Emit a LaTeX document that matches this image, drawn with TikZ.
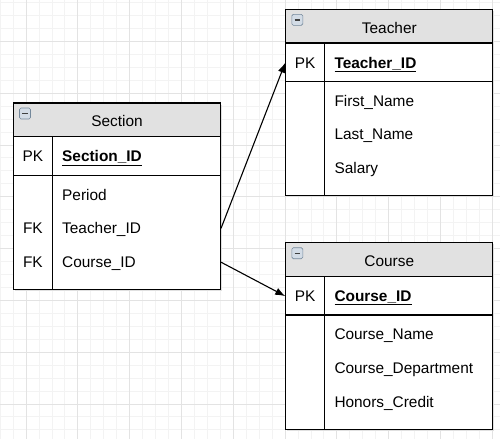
\documentclass[tikz,border=0pt]{standalone}
\usepackage{fontspec}
\setmainfont{Liberation Sans}
\usetikzlibrary{arrows.meta}

\definecolor{gridminor}{HTML}{F3F3F3}
\definecolor{gridmajor}{HTML}{E3E3E3}
\definecolor{headgray}{HTML}{E1E1E1}
\definecolor{iconfill}{HTML}{D3DCE6}
\definecolor{iconline}{HTML}{74889B}

\tikzset{
  tbl/.style={draw=black, line width=1.1pt, minimum width=207pt, minimum height=186.5pt, inner sep=0pt},
  sep/.style={line width=1.1pt},
  shade/.style={fill=black!12},
  body/.style={fill=white},
  head/.style={fill=headgray},
  txt/.style={font=\fontsize{15.4}{18}\selectfont, inner sep=1pt},
  title/.style={txt, anchor=base},
  key/.style={txt, anchor=base},
  field/.style={txt, anchor=base west},
  icon/.style={draw=iconline, fill=iconfill, line width=0.6pt, rounded corners=1.5pt},
  link/.style={line width=1.1pt, -{Latex[length=10pt,width=7.5pt]}}
}

\begin{document}
\begin{tikzpicture}[x=1pt,y=-1pt]

\useasboundingbox (0,0) rectangle (500,439);
\clip (0,0) rectangle (500,439);

% grid
\foreach \i in {-2,...,36}
  \draw[gridminor, line width=0.8pt] ({26+12.95*\i},0) -- ++(0,439);
\foreach \i in {-3,...,31}
  \draw[gridminor, line width=0.8pt] (0,{41.3+12.95*\i}) -- ++(500,0);
\foreach \i in {0,...,9}
  \draw[gridmajor, line width=0.8pt] ({26+51.8*\i},0) -- ++(0,439);
\foreach \i in {0,...,7}
  \draw[gridmajor, line width=0.8pt] (0,{41.3+51.8*\i}) -- ++(500,0);

% Section
\begin{scope}[shift={(13.5,103)}]
\fill[shade] (1.5,1.5) rectangle (208.5,188);
\fill[body] (0,0) rectangle (207,186.5);
\fill[head] (0,0) rectangle (207,33.7);
\node[tbl] (sec) at (103.5,93.25) {};
\draw[sep] (0,33.7) -- (207,33.7) (0,72.3) -- (207,72.3) (38.8,33.7) -- (38.8,186.5);
\draw[icon] (6,5) rectangle ++(11,11);
\draw[line width=1.4pt, black!75] (8.7,10.5) -- (14.3,10.5);
\node[title] (sec-title) at (103.5,23.7) {Section};
\node[key] (sec-pk) at (19.4,58.7) {PK};
\node[field] (sec-id) at (47.5,58.7) {\underline{\textbf{Section\_ID}}};
\node[field] (sec-f1) at (47.5,97.1) {Period};
\node[key] (sec-k1) at (19.4,130.6) {FK};
\node[field] (sec-f2) at (47.5,130.6) {Teacher\_ID};
\node[key] (sec-k2) at (19.4,164.5) {FK};
\node[field] (sec-f3) at (47.5,164.5) {Course\_ID};
\end{scope}

% Teacher
\begin{scope}[shift={(285.8,9.3)}]
\fill[shade] (1.5,1.5) rectangle (208.5,188);
\fill[body] (0,0) rectangle (207,186.5);
\fill[head] (0,0) rectangle (207,33.7);
\node[tbl] (tea) at (103.5,93.25) {};
\draw[sep] (0,33.7) -- (207,33.7) (0,72.3) -- (207,72.3) (38.8,33.7) -- (38.8,186.5);
\draw[icon] (6,5) rectangle ++(11,11);
\draw[line width=1.4pt, black!75] (8.7,10.5) -- (14.3,10.5);
\node[title] (tea-title) at (103.5,23.7) {Teacher};
\node[key] (tea-pk) at (19.4,58.7) {PK};
\node[field] (tea-id) at (47.5,58.7) {\underline{\textbf{Teacher\_ID}}};
\node[field] (tea-f1) at (47.5,97.1) {First\_Name};
\node[field] (tea-f2) at (47.5,130.6) {Last\_Name};
\node[field] (tea-f3) at (47.5,164.5) {Salary};
\end{scope}

% Course
\begin{scope}[shift={(285.8,242.7)}]
\fill[shade] (1.5,1.5) rectangle (208.5,188);
\fill[body] (0,0) rectangle (207,186.5);
\fill[head] (0,0) rectangle (207,33.7);
\node[tbl] (cou) at (103.5,93.25) {};
\draw[sep] (0,33.7) -- (207,33.7) (0,72.3) -- (207,72.3) (38.8,33.7) -- (38.8,186.5);
\draw[icon] (6,5) rectangle ++(11,11);
\draw[line width=1.4pt, black!75] (8.7,10.5) -- (14.3,10.5);
\node[title] (cou-title) at (103.5,23.7) {Course};
\node[key] (cou-pk) at (19.4,58.7) {PK};
\node[field] (cou-id) at (47.5,58.7) {\underline{\textbf{Course\_ID}}};
\node[field] (cou-f1) at (47.5,97.1) {Course\_Name};
\node[field] (cou-f2) at (47.5,130.6) {Course\_Department};
\node[field] (cou-f3) at (47.5,164.5) {Honors\_Credit};
\end{scope}

% links
\draw[link] (sec.east |- sec-k1) -- (tea.west |- tea-pk);
\draw[link] (sec.east |- sec-k2) -- (cou.west |- cou-pk);

\end{tikzpicture}
\end{document}
